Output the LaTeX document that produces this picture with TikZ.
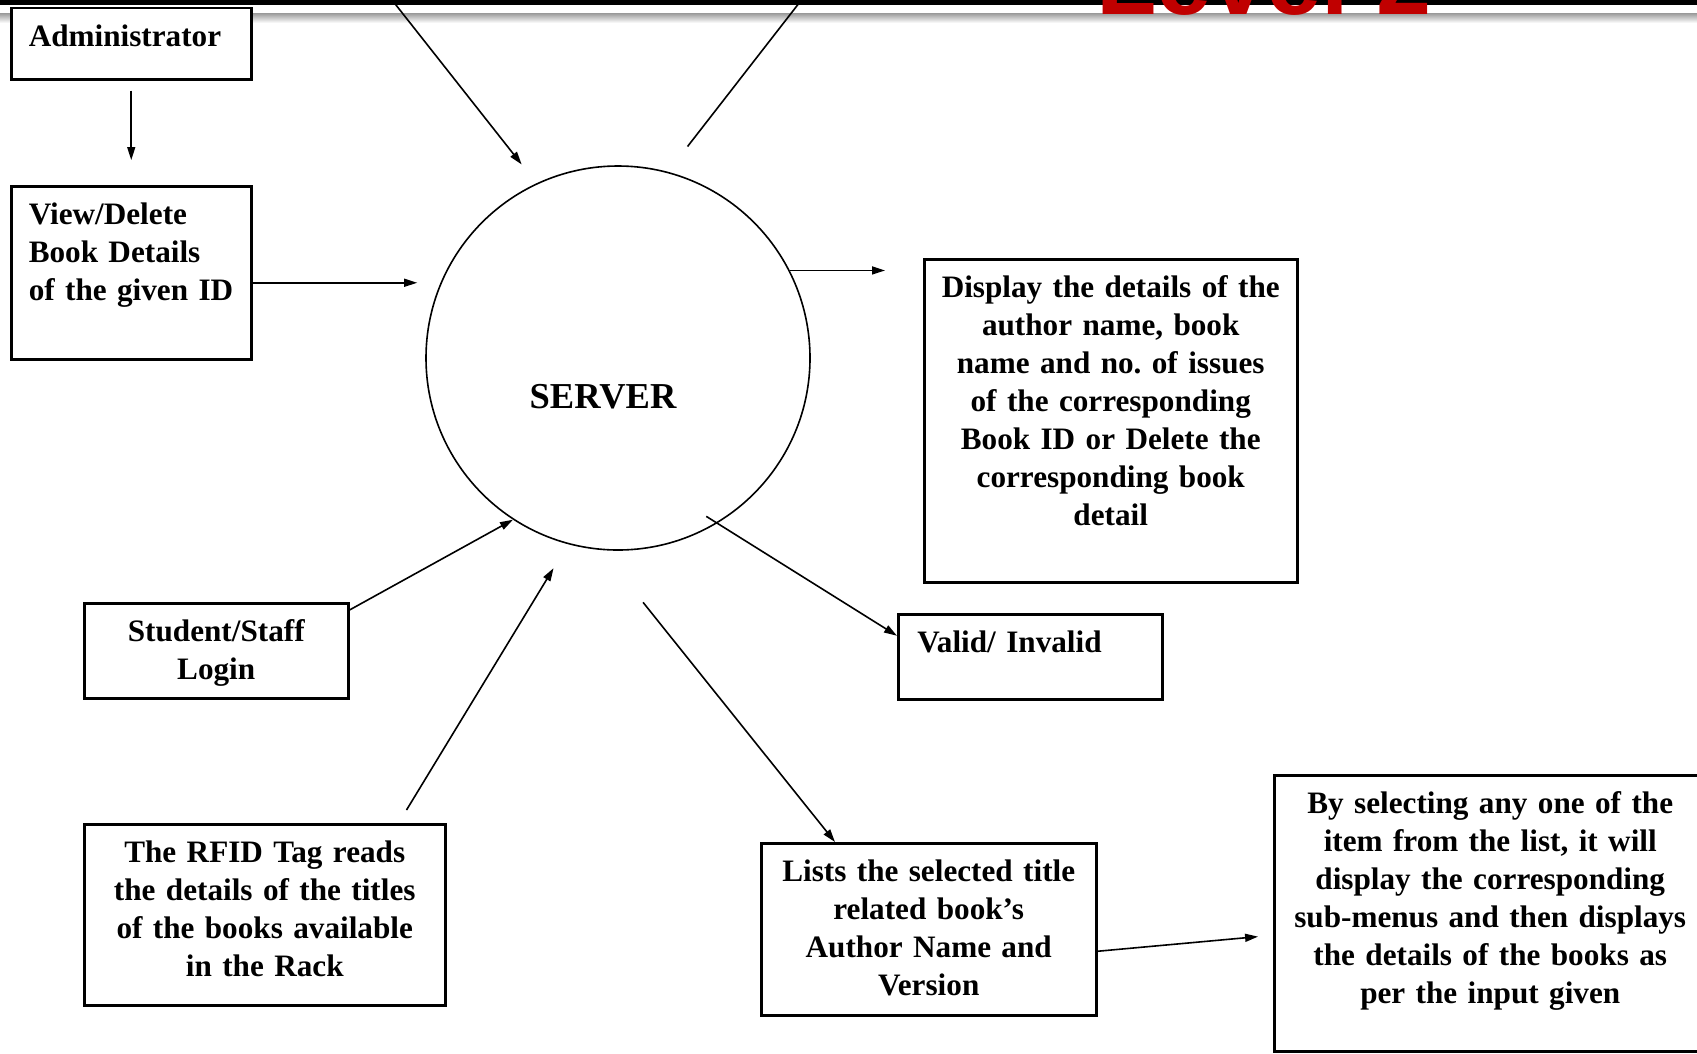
\documentclass[tikz,border=0pt]{standalone}
\usepackage{fontspec}
\setmainfont{Liberation Serif}
\newfontfamily\headfont{Liberation Sans}
\usetikzlibrary{arrows.meta, positioning, calc}
\definecolor{headred}{HTML}{C00000}
\newcommand\boxfont{\fontsize{31.2pt}{38pt}\selectfont\bfseries}
\tikzset{%
   box/.style={
      draw,
      line width=2.5pt,
      fill=white,
      anchor=north west,
      inner xsep=19pt,
      inner ysep=0pt,
      text height=38.5pt,
      font=\boxfont
   },
   lbox/.style={
      box,
      align=left
   },
   cbox/.style={
      box,
      align=center,
      inner xsep=5pt
   },
   flow/.style={
      -{Triangle[length=13pt, width=8pt]},
      line width=1.6pt
   },
}

\begin{document}
\begin{tikzpicture}[x=1pt, y=-1pt]
   \useasboundingbox (0,0) rectangle (1697,1053);
   \clip (0,0) rectangle (1697,1053);
   % slide heading, cut off at the top
   \fill[black] (0,0) rectangle (1697,4.5);
   \shade[top color=black!40, bottom color=white] (0,13) rectangle (1697,23);
   \node[anchor=base west, inner sep=0pt, text=headred,
      font=\headfont\bfseries\fontsize{99pt}{99pt}\selectfont] (head) at (1096,14.5) {Level 2};

   \node[circle, draw, line width=1.6pt, minimum size=384pt, inner sep=0pt] (server) at (618,358) {};
   \node[font=\fontsize{36.5pt}{44pt}\selectfont\bfseries] (srvtxt) at (603,397) {SERVER};

   \node[lbox, text width=205pt, inner xsep=17.5pt, text depth=33pt] (admin) at (10,6.5) {Administrator};
   \node[lbox, text width=205pt, inner xsep=17.5pt, text depth=134.5pt] (view) at (10,185) {View/Delete\\Book Details\\of the given ID};
   \node[cbox, text width=363pt, text depth=284.5pt] (display) at (923,258) {Display the details of the\\author name, book\\name and no.\ of issues\\of the corresponding\\Book ID or Delete the\\corresponding book\\detail};
   \node[lbox, text width=226pt, text depth=46.5pt] (valid) at (897,613) {Valid/ Invalid};
   \node[cbox, text width=254pt, text depth=56.5pt] (student) at (83,602) {Student/Staff\\Login};
   \node[cbox, text width=351pt, text depth=142.5pt] (rfid) at (83,823) {The RFID Tag reads\\the details of the titles\\of the books available\\in the Rack};
   \node[cbox, text width=325pt, text depth=133.5pt] (lists) at (760,842) {Lists the selected title\\related book’s\\Author Name and\\Version};
   \node[cbox, text width=422pt, text depth=237.5pt] (pick) at (1273,774) {By selecting any one of the\\item from the list, it will\\display the corresponding\\sub-menus and then displays\\the details of the books as\\per the input given};

   \coordinate (intop) at (366,-33);
   \coordinate (outtop) at (824,-29);

   \draw[flow, shorten <=10pt, shorten >=25pt] (admin) -- (view);
   \draw[flow, shorten >=8pt] ([yshift=-10pt]view.east) -- ([yshift=-10pt]view.east -| server.west);
   \draw[flow, shorten >=24pt] (intop) -- (server.115);
   \draw[flow, shorten <=32pt] (server.75) -- (outtop);
   \draw[flow, shorten >=38pt] (server.27) -- (server.27 -| display.west);
   \draw[flow, shorten <=-13pt] (server.301) -- ([yshift=21pt]valid.west);
   \draw[flow, shorten <=67pt] (server.265) -- ([xshift=75pt]lists.north west);
   \draw[flow] ([yshift=-8pt]student.north east) -- (server.237);
   \draw[flow, shorten >=28pt] ([xshift=-40pt, yshift=13pt]rfid.north east) -- (server.255);
   \draw[flow, shorten >=15pt] ([yshift=-22pt]lists.east) -- ([yshift=-22pt]pick.west);
\end{tikzpicture}
\end{document}
